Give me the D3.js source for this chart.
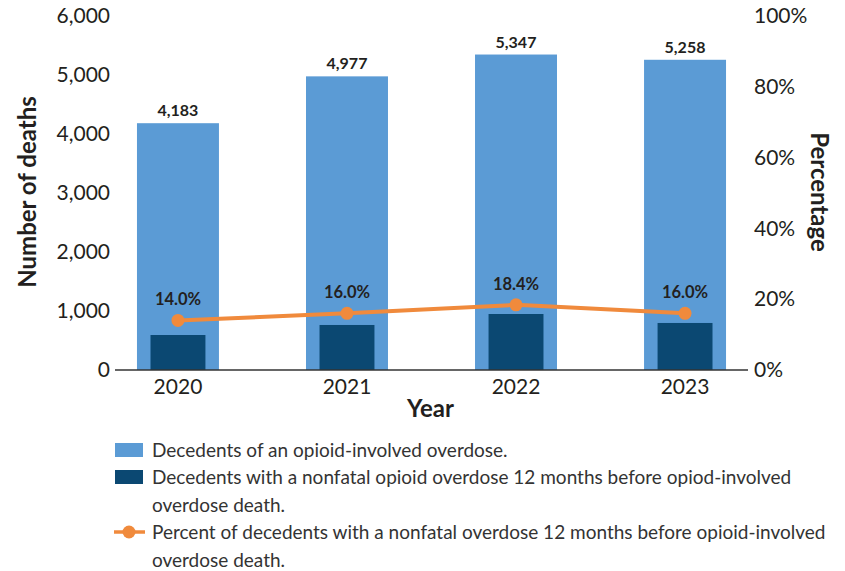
<!DOCTYPE html>
<html>
<head>
<meta charset="utf-8">
<script src="https://cdn.jsdelivr.net/npm/d3@7"></script>
<style>
  html, body { margin: 0; padding: 0; background: #fff; }
  svg { display: block; font-family: Lato, "Open Sans", sans-serif; }
</style>
</head>
<body>
<svg id="chart" width="845" height="571"></svg>
<script>
// Opioid-involved overdose deaths by year
const years = ["2020", "2021", "2022", "2023"];
const opioidDeaths = [4183, 4977, 5347, 5258];
const priorNonfatal = [593, 763, 949, 797];
const priorPercent = [14.0, 16.0, 18.4, 16.0];
const leftTicks = [0, 1000, 2000, 3000, 4000, 5000, 6000];
const rightTicks = [0, 20, 40, 60, 80, 100];
const legendLabels = [
  "Decedents of an opioid-involved overdose.",
  ["Decedents with a nonfatal opioid overdose 12 months before opiod-involved", "overdose death."],
  ["Percent of decedents with a nonfatal overdose 12 months before opioid-involved", "overdose death."]
];

const colors = { light: "#5b9bd5", dark: "#0b4872", line: "#f08a3c", text: "#231f20" };

const svg = d3.select("#chart");
const plot = { left: 115, right: 748, top: 16, bottom: 370 };

const x = d3.scaleBand().domain(years).range([plot.left, plot.right])
  .paddingInner(0.515).paddingOuter(0.13);
const yLeft = d3.scaleLinear().domain([0, 6000]).range([plot.bottom, plot.top]);
const yRight = d3.scaleLinear().domain([0, 100]).range([plot.bottom, plot.top]);

const rows = years.map((yr, i) => ({ yr, total: opioidDeaths[i], prior: priorNonfatal[i], pct: priorPercent[i] }));

function styleTicks(g) {
  g.select(".domain").remove();
  g.selectAll("text").attr("font-size", 21).attr("fill", colors.text)
    .attr("font-family", "Lato, sans-serif");
}

// Left axis (number of deaths)
svg.append("g").attr("transform", `translate(${plot.left},0)`)
  .call(d3.axisLeft(yLeft).tickValues(leftTicks).tickFormat(d3.format(",")).tickSize(0).tickPadding(5))
  .call(styleTicks);

// Right axis (percentage)
svg.append("g").attr("transform", `translate(${plot.right},0)`)
  .call(d3.axisRight(yRight).tickValues(rightTicks).tickFormat(d => d + "%").tickSize(0).tickPadding(6))
  .call(styleTicks);

// Total opioid-involved deaths
svg.append("g").selectAll("rect").data(rows).join("rect")
  .attr("x", d => x(d.yr))
  .attr("width", x.bandwidth())
  .attr("y", d => yLeft(d.total))
  .attr("height", d => yLeft(0) - yLeft(d.total))
  .attr("fill", colors.light);

// Deaths preceded by a nonfatal overdose
const innerW = x.bandwidth() * 0.67;
svg.append("g").selectAll("rect").data(rows).join("rect")
  .attr("x", d => x(d.yr) + (x.bandwidth() - innerW) / 2)
  .attr("width", innerW)
  .attr("y", d => yLeft(d.prior))
  .attr("height", d => yLeft(0) - yLeft(d.prior))
  .attr("fill", colors.dark);

// Bar value labels
svg.append("g").selectAll("text").data(rows).join("text")
  .attr("x", d => x(d.yr) + x.bandwidth() / 2)
  .attr("y", d => yLeft(d.total) - 7)
  .attr("text-anchor", "middle")
  .attr("font-size", 16).attr("font-weight", 700).attr("fill", colors.text)
  .text(d => d3.format(",")(d.total));

// Baseline
svg.append("line")
  .attr("x1", plot.left).attr("x2", plot.right)
  .attr("y1", yLeft(0)).attr("y2", yLeft(0))
  .attr("stroke", "#333").attr("stroke-width", 1.6);

// Year labels
svg.append("g").attr("transform", `translate(0,${plot.bottom})`)
  .call(d3.axisBottom(x).tickSize(0).tickPadding(9))
  .call(styleTicks);

// Percentage line
const line = d3.line().x(d => x(d.yr) + x.bandwidth() / 2).y(d => yRight(d.pct));
svg.append("path").datum(rows)
  .attr("d", line).attr("fill", "none")
  .attr("stroke", colors.line).attr("stroke-width", 4);
svg.append("g").selectAll("circle").data(rows).join("circle")
  .attr("cx", d => x(d.yr) + x.bandwidth() / 2)
  .attr("cy", d => yRight(d.pct))
  .attr("r", 6.5).attr("fill", colors.line);
svg.append("g").selectAll("text").data(rows).join("text")
  .attr("x", d => x(d.yr) + x.bandwidth() / 2)
  .attr("y", d => yRight(d.pct) - 15)
  .attr("text-anchor", "middle")
  .attr("font-size", 16.5).attr("font-weight", 700).attr("fill", colors.text)
  .text(d => d3.format(".1f")(d.pct) + "%");

// Axis titles
svg.append("text")
  .attr("transform", `translate(36,192) rotate(-90)`)
  .attr("text-anchor", "middle").attr("font-size", 24).attr("font-weight", 700)
  .attr("fill", colors.text).text("Number of deaths");
svg.append("text")
  .attr("transform", `translate(811,192) rotate(90)`)
  .attr("text-anchor", "middle").attr("font-size", 24).attr("font-weight", 700)
  .attr("fill", colors.text).text("Percentage");
svg.append("text")
  .attr("x", 430.5).attr("y", 417)
  .attr("text-anchor", "middle").attr("font-size", 24).attr("font-weight", 700)
  .attr("fill", colors.text).text("Year");

// Legend
const legend = svg.append("g").attr("font-size", 19).attr("fill", "#333");
const lx = 115, tx = 152;
const baselines = [457, 484, 539];
const lineGap = 27.5;
legend.append("rect").attr("x", lx).attr("y", 443).attr("width", 28).attr("height", 14).attr("fill", colors.light);
legend.append("rect").attr("x", lx).attr("y", 470).attr("width", 28).attr("height", 14).attr("fill", colors.dark);
legend.append("line").attr("x1", 114).attr("x2", 145).attr("y1", 532).attr("y2", 532)
  .attr("stroke", colors.line).attr("stroke-width", 3.5);
legend.append("circle").attr("cx", 129).attr("cy", 532).attr("r", 6.5).attr("fill", colors.line);

legendLabels.forEach((lab, i) => {
  const lines = Array.isArray(lab) ? lab : [lab];
  const t = legend.append("text").attr("x", tx).attr("y", baselines[i]);
  lines.forEach((s, j) => t.append("tspan").attr("x", tx).attr("dy", j === 0 ? 0 : lineGap).text(s));
});
</script>
</body>
</html>
